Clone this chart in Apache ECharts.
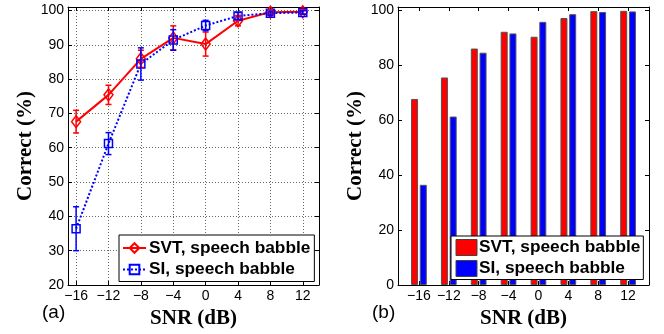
<!DOCTYPE html>
<html>
<head>
<meta charset="utf-8">
<script src="https://cdn.jsdelivr.net/npm/echarts@6/dist/echarts.min.js"></script>
<style>
html, body { margin: 0; padding: 0; background: #fff; }
#main { width: 664px; height: 334px; }
</style>
</head>
<body>
<div id="main"></div>
<script>
// SNR conditions (dB)
var snr = [-16, -12, -8, -4, 0, 4, 8, 12];
// percent correct (mean) and error bar half length
var svtMean = [67.6, 75.4, 85.9, 92.0, 90.2, 97.0, 99.5, 99.6];
var svtErr  = [3.3, 2.8, 2.5, 3.5, 3.5, 1.5, 0.7, 0.6];
var siMean  = [36.4, 61.2, 84.4, 91.4, 95.6, 98.4, 99.2, 99.4];
var siErr   = [6.4, 3.2, 4.7, 3.0, 1.5, 1.0, 0.6, 0.5];
// tick labels
var xTicks  = [-16, -12, -8, -4, 0, 4, 8, 12];
var yTicksA = [20, 30, 40, 50, 60, 70, 80, 90, 100];
var yTicksB = [0, 20, 40, 60, 80, 100];

var SVT = 'SVT, speech babble';
var SI = 'SI, speech babble';
var sans = 'Liberation Sans, Arial, Helvetica, sans-serif';
var serif = 'Liberation Serif, Times New Roman, serif';

function fmt(v) { return v < 0 ? '\u2212' + Math.abs(v) : String(v); }
function pairs(xs, ys, es) {
  return xs.map(function (x, i) { return es ? [x, ys[i], es[i]] : [x, ys[i]]; });
}

var labelStyle = { show: true, fontFamily: sans, fontSize: 14, color: '#000', margin: 4, formatter: fmt };
var nameStyle = { fontFamily: serif, fontWeight: 'bold', fontSize: 21, color: '#000' };
var lineBlack = { show: true, onZero: false, lineStyle: { color: '#000', width: 1 } };
var gridDots = { show: true, lineStyle: { color: '#666', type: [1, 2], width: 1 } };

// one axis of the box; main ones carry labels, the others only ticks
function axis(kind, grid, pos, min, max, ticks, main, split, name) {
  return {
    type: 'value', gridIndex: grid, position: pos, min: min, max: max,
    axisLine: lineBlack,
    axisTick: { show: true, inside: true, length: 4, customValues: ticks, lineStyle: { color: '#000' } },
    axisLabel: main ? Object.assign({ customValues: ticks }, labelStyle) : { show: false },
    splitLine: split ? gridDots : { show: false },
    name: main ? name : '',
    nameLocation: 'middle',
    nameGap: kind === 'x' ? 16 : 32,
    nameTextStyle: nameStyle
  };
}

function errorBar(params, api) {
  var x = api.value(0), m = api.value(1), e = api.value(2);
  var top = api.coord([x, m + e]), bot = api.coord([x, m - e]);
  var w = 3;
  var st = { stroke: api.visual('color'), lineWidth: 1.5 };
  return { type: 'group', children: [
    { type: 'line', shape: { x1: top[0], y1: top[1], x2: bot[0], y2: bot[1] }, style: st },
    { type: 'line', shape: { x1: top[0] - w, y1: top[1], x2: top[0] + w, y2: top[1] }, style: st },
    { type: 'line', shape: { x1: bot[0] - w, y1: bot[1], x2: bot[0] + w, y2: bot[1] }, style: st }
  ]};
}

var legendText = { fontFamily: sans, fontWeight: 'bold', fontSize: 17.3, lineHeight: 18, color: '#000' };

var chart = echarts.init(document.getElementById('main'));
chart.setOption({
  animation: false,
  backgroundColor: '#fff',
  grid: [
    { left: 68, top: 7, width: 251, height: 278 },
    { left: 398, top: 7, width: 251, height: 278 }
  ],
  xAxis: [
    axis('x', 0, 'bottom', -17, 14, xTicks, true, true, 'SNR (dB)'),
    axis('x', 0, 'top', -17, 14, xTicks, false, false),
    axis('x', 1, 'bottom', -18.8, 14.8, xTicks, true, false, 'SNR (dB)'),
    axis('x', 1, 'top', -18.8, 14.8, xTicks, false, false)
  ],
  yAxis: [
    axis('y', 0, 'left', 20, 101, yTicksA, true, true, 'Correct (%)'),
    axis('y', 0, 'right', 20, 101, yTicksA, false, false),
    axis('y', 1, 'left', 0, 101, yTicksB, true, false, 'Correct (%)'),
    axis('y', 1, 'right', 0, 101, yTicksB, false, false)
  ],
  legend: [
    {
      left: 119, top: 235, orient: 'vertical', selectedMode: false,
      data: [SVT, SI],
      itemWidth: 23, itemHeight: 12, itemGap: 3.5, padding: [4, 4, 3, 3],
      borderColor: '#000', borderWidth: 1, borderRadius: 0, backgroundColor: '#fff',
      textStyle: Object.assign({ padding: [0, 0, 0, -2] }, legendText)
    },
    {
      left: 451, top: 236, orient: 'vertical', selectedMode: false,
      data: [
        { name: SVT, icon: 'rect', itemStyle: { color: '#ff0000', borderColor: '#444', borderWidth: 1 } },
        { name: SI, icon: 'rect', itemStyle: { color: '#0000ff', borderColor: '#444', borderWidth: 1 } }
      ],
      itemWidth: 21, itemHeight: 16, itemGap: 3, padding: [2.5, 3, 2, 4.5],
      borderColor: '#000', borderWidth: 1, borderRadius: 0, backgroundColor: '#fff',
      textStyle: Object.assign({ padding: [0, 0, 0, -3] }, legendText)
    }
  ],
  series: [
    {
      name: SVT, type: 'line', xAxisIndex: 0, yAxisIndex: 0,
      data: pairs(snr, svtMean),
      symbol: 'diamond', symbolSize: [9, 12], showSymbol: true,
      lineStyle: { color: '#ff0000', width: 2 },
      itemStyle: { color: 'rgba(0,0,0,0)', borderColor: '#ff0000', borderWidth: 1.5 },
      z: 3
    },
    {
      name: SI, type: 'line', xAxisIndex: 0, yAxisIndex: 0,
      data: pairs(snr, siMean),
      symbol: 'rect', symbolSize: 8, showSymbol: true,
      lineStyle: { color: '#0000ff', width: 2, type: [2, 2] },
      itemStyle: { color: 'rgba(0,0,0,0)', borderColor: '#0000ff', borderWidth: 1.5 },
      z: 3
    },
    {
      name: 'SVT error', type: 'custom', xAxisIndex: 0, yAxisIndex: 0,
      data: pairs(snr, svtMean, svtErr), renderItem: errorBar,
      itemStyle: { color: '#ff0000' }, z: 4
    },
    {
      name: 'SI error', type: 'custom', xAxisIndex: 0, yAxisIndex: 0,
      data: pairs(snr, siMean, siErr), renderItem: errorBar,
      itemStyle: { color: '#0000ff' }, z: 4
    },
    {
      name: SVT, type: 'bar', xAxisIndex: 2, yAxisIndex: 2,
      data: pairs(snr, svtMean),
      barWidth: 7, barGap: '25%',
      itemStyle: { color: '#ff0000', borderColor: '#555', borderWidth: 1 }
    },
    {
      name: SI, type: 'bar', xAxisIndex: 2, yAxisIndex: 2,
      data: pairs(snr, siMean),
      barWidth: 7, barGap: '25%',
      itemStyle: { color: '#0000ff', borderColor: '#555', borderWidth: 1 }
    }
  ],
  graphic: [
    { type: 'text', left: 42, top: 303, style: { text: '(a)', fontFamily: sans, fontSize: 19, fill: '#000' } },
    { type: 'text', left: 372, top: 303, style: { text: '(b)', fontFamily: sans, fontSize: 19, fill: '#000' } }
  ]
});
</script>
</body>
</html>
